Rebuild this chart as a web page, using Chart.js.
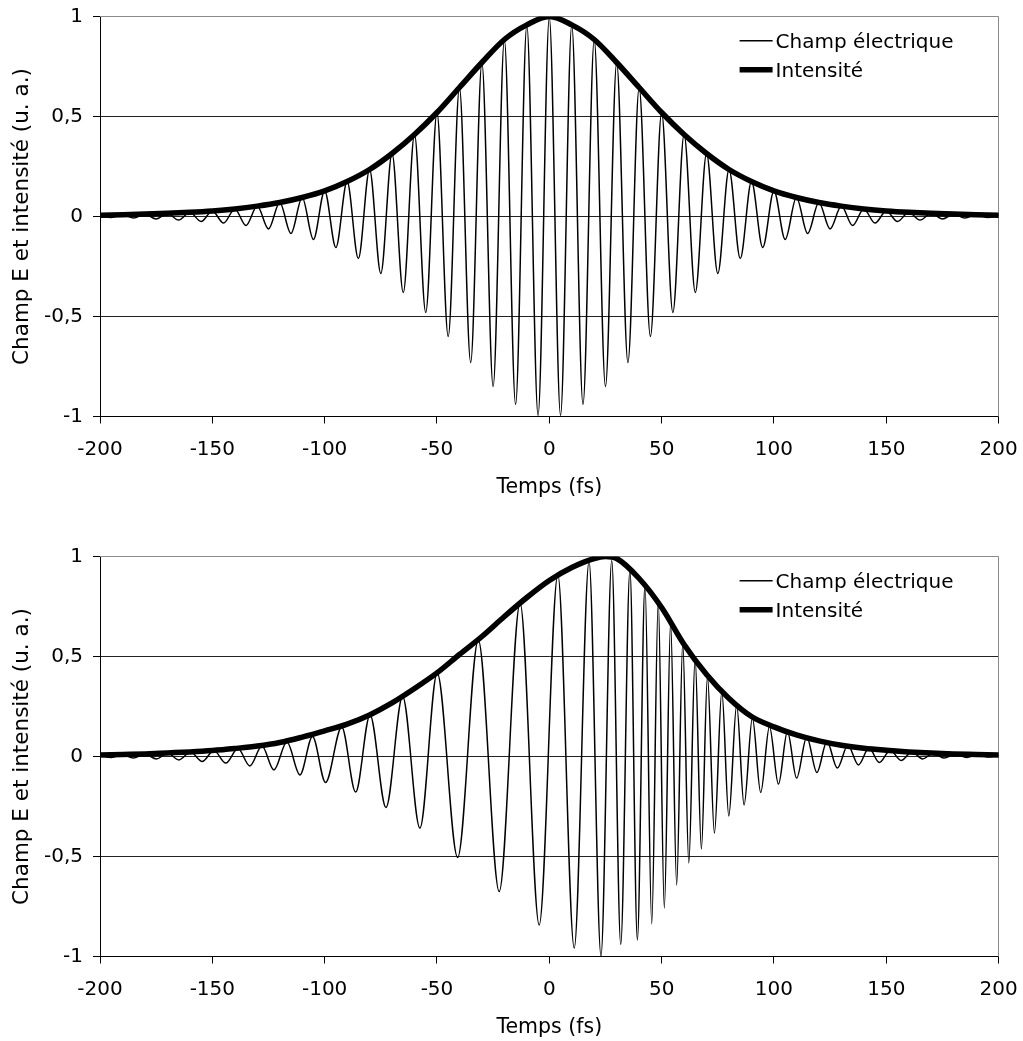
<!DOCTYPE html>
<html>
<head>
<meta charset="utf-8">
<script src="https://cdn.jsdelivr.net/npm/chart.js@4"></script>
<style>
  body { margin: 0; background: #fff; }
  canvas { display: block; }
</style>
</head>
<body>
<canvas id="topChart" width="1023" height="540"></canvas>
<canvas id="bottomChart" width="1023" height="501"></canvas>
<script>
// top pulse: field extrema (fs) and values
const fieldTimesTop = [
  -200, -195, -190, -185, -180, -175, -170, -165, -160, -155,
  -150, -145, -140, -135, -130, -125, -120, -115, -110, -105,
  -100, -95, -90, -85, -80, -75, -70, -65, -60, -55,
  -50, -45, -40, -35, -30, -25, -20, -15, -10, -5,
  0, 5, 10, 15, 20, 25, 30, 35, 40, 45,
  50, 55, 60, 65, 70, 75, 80, 85, 90, 95,
  100, 105, 110, 115, 120, 125, 130, 135, 140, 145,
  150, 155, 160, 165, 170, 175, 180, 185, 190, 195, 200
];
const fieldValuesTop = [
  0.006, -0.005, 0.009, -0.008, 0.012, -0.012, 0.016, -0.018, 0.021, -0.025,
  0.028, -0.033, 0.038, -0.045, 0.052, -0.062, 0.07, -0.085, 0.095, -0.115,
  0.128, -0.155, 0.175, -0.21, 0.235, -0.285, 0.315, -0.38, 0.41, -0.48,
  0.52, -0.6, 0.645, -0.73, 0.77, -0.85, 0.885, -0.94, 0.958, -0.995,
  0.995, -0.995, 0.958, -0.94, 0.885, -0.85, 0.77, -0.73, 0.645, -0.6,
  0.52, -0.48, 0.41, -0.38, 0.315, -0.285, 0.235, -0.21, 0.175, -0.155,
  0.128, -0.115, 0.095, -0.085, 0.07, -0.062, 0.052, -0.045, 0.038, -0.033,
  0.028, -0.025, 0.021, -0.018, 0.016, -0.012, 0.012, -0.008, 0.009, -0.005, 0.006
];
const intensityTimesTop = [
  -200, -190, -180, -170, -160, -150, -140, -130, -120, -110,
  -100, -90, -80, -70, -60, -50, -40, -30, -20, -10,
  0, 10, 20, 30, 40, 50, 60, 70, 80, 90,
  100, 110, 120, 130, 140, 150, 160, 170, 180, 190, 200
];
const intensityValuesTop = [
  0.006, 0.009, 0.012, 0.016, 0.021, 0.028, 0.038, 0.052, 0.07, 0.095,
  0.128, 0.175, 0.235, 0.315, 0.41, 0.52, 0.645, 0.77, 0.885, 0.958,
  1, 0.958, 0.885, 0.77, 0.645, 0.52, 0.41, 0.315, 0.235, 0.175,
  0.128, 0.095, 0.07, 0.052, 0.038, 0.028, 0.021, 0.016, 0.012, 0.009, 0.006
];

// bottom pulse (chirped): field extrema and intensity
const fieldTimesBottom = [
  -200, -194.9, -190.1, -185.2, -180, -174.8, -169.9, -164.9, -159.7, -154.5,
  -149.3, -144, -138.6, -133.3, -127.9, -122.6, -116.8, -111, -105.4, -99.6,
  -92.4, -86.2, -79.8, -72.7, -65.3, -57.6, -49.9, -40.8, -31.6, -22.3,
  -13, -4.5, 3.8, 11.1, 17.7, 23, 27.8, 31.8, 35.9, 39.2,
  42.6, 45.6, 48.5, 51.2, 54, 56.7, 59.4, 62.1, 64.9, 67.7,
  70.4, 73.5, 76.8, 79.9, 83.4, 86.7, 90.4, 94.1, 98, 102,
  106, 110.1, 114.6, 119.1, 123.6, 128.2, 132.9, 137.6, 142.3, 146.9,
  151.8, 156.6, 161.4, 166.2, 171, 175.7, 180.8, 185.8, 190.6, 195.5, 200
];
const fieldValuesBottom = [
  0.006, -0.005, 0.009, -0.008, 0.012, -0.012, 0.017, -0.017, 0.022, -0.025,
  0.03, -0.033, 0.04, -0.047, 0.052, -0.067, 0.072, -0.092, 0.1, -0.13,
  0.148, -0.178, 0.208, -0.255, 0.3, -0.358, 0.417, -0.505, 0.583, -0.675,
  0.767, -0.842, 0.91, -0.958, 0.975, -0.997, 0.98, -0.94, 0.933, -0.917,
  0.858, -0.837, 0.775, -0.758, 0.67, -0.642, 0.567, -0.533, 0.492, -0.463,
  0.4, -0.383, 0.325, -0.297, 0.258, -0.242, 0.192, -0.18, 0.15, -0.138,
  0.125, -0.108, 0.098, -0.08, 0.075, -0.058, 0.056, -0.042, 0.042, -0.03,
  0.031, -0.02, 0.023, -0.012, 0.017, -0.008, 0.012, -0.005, 0.009, -0.003, 0.006
];
const intensityTimesBottom = [
  -200, -190, -180, -170, -160, -150, -140, -130, -120, -110,
  -100, -90, -80, -70, -60, -50, -40, -30, -20, -10,
  0, 10, 20, 25, 30, 40, 50, 60, 70, 80, 90,
  100, 110, 120, 130, 140, 150, 160, 170, 180, 190, 200
];
const intensityValuesBottom = [
  0.007, 0.01, 0.013, 0.018, 0.023, 0.03, 0.04, 0.052, 0.07, 0.097,
  0.128, 0.162, 0.208, 0.268, 0.34, 0.418, 0.51, 0.6, 0.7, 0.795,
  0.88, 0.945, 0.99, 1, 0.99, 0.89, 0.745, 0.56, 0.41, 0.29, 0.2,
  0.148, 0.108, 0.078, 0.056, 0.041, 0.031, 0.023, 0.017, 0.013, 0.01, 0.007
];

const xTicks = [-200, -150, -100, -50, 0, 50, 100, 150, 200];
const yTicks = [-1, -0.5, 0, 0.5, 1];
const seriesLabels = ["Champ électrique", "Intensité"];

const font = '"DejaVu Sans", Verdana, sans-serif';

// gray frame on top/right of the plot area
const plotBorder = {
    id: 'plotBorder',
    beforeDatasetsDraw(chart) {
        const ctx = chart.ctx;
        const a = chart.chartArea;
        const r = Math.round(a.right) - 0.5;
        ctx.save();
        ctx.strokeStyle = '#8a8a8a';
        ctx.lineWidth = 1;
        ctx.beginPath();
        ctx.moveTo(a.left, a.top);
        ctx.lineTo(r, a.top);
        ctx.lineTo(r, a.bottom);
        ctx.stroke();
        ctx.restore();
    }
};

// legend sitting inside the plot, top right
const insideLegend = {
    id: 'insideLegend',
    afterDatasetsDraw(chart) {
        const ctx = chart.ctx;
        const a = chart.chartArea;
        const x0 = a.right - 259;
        ctx.save();
        ctx.font = '20px ' + font;
        ctx.textBaseline = 'middle';
        ctx.fillStyle = '#000';
        chart.data.datasets.forEach((ds, i) => {
            const y = a.top + 24.2 + i * 29;
            ctx.strokeStyle = ds.borderColor;
            ctx.lineWidth = ds.borderWidth;
            ctx.beginPath();
            ctx.moveTo(x0, y);
            ctx.lineTo(x0 + 33, y);
            ctx.stroke();
            ctx.fillText(ds.label, x0 + 36, y + 1.7);
        });
        ctx.restore();
    }
};

function toPoints(xs, ys) {
    return xs.map((x, i) => ({ x: x, y: ys[i] }));
}

function makeChart(id, fieldT, fieldV, intT, intV, padBottom) {
    return new Chart(document.getElementById(id), {
        type: 'line',
        data: {
            datasets: [
                {
                    label: seriesLabels[0],
                    data: toPoints(fieldT, fieldV),
                    borderColor: '#000',
                    borderWidth: 1.5,
                    pointRadius: 0,
                    cubicInterpolationMode: 'monotone',
                    order: 1
                },
                {
                    label: seriesLabels[1],
                    data: toPoints(intT, intV),
                    borderColor: '#000',
                    borderWidth: 5.5,
                    borderCapStyle: 'round',
                    borderJoinStyle: 'round',
                    pointRadius: 0,
                    cubicInterpolationMode: 'monotone',
                    order: 0
                }
            ]
        },
        options: {
            responsive: false,
            animation: false,
            layout: { padding: { top: 16.5, right: 24.4, bottom: padBottom, left: 0 } },
            plugins: {
                legend: { display: false },
                tooltip: { enabled: false }
            },
            scales: {
                x: {
                    type: 'linear',
                    min: -200,
                    max: 200,
                    afterFit: s => {
                        s.height = 83;
                        s.paddingLeft = 0;
                        s.paddingRight = 0;
                    },
                    afterBuildTicks: s => { s.ticks = xTicks.map(v => ({ value: v })); },
                    grid: { drawOnChartArea: false, tickLength: 7, tickColor: '#000' },
                    border: { color: '#000', width: 1 },
                    ticks: { color: '#000', padding: 14, maxRotation: 0, font: { family: font, size: 20 } },
                    title: {
                        display: true,
                        text: 'Temps (fs)',
                        color: '#000',
                        padding: 0,
                        font: { family: font, size: 20.5 }
                    }
                },
                y: {
                    min: -1,
                    max: 1,
                    afterFit: s => {
                        s.width = 100;
                        s.paddingTop = 0;
                        s.paddingBottom = 0;
                    },
                    afterBuildTicks: s => { s.ticks = yTicks.map(v => ({ value: v })); },
                    grid: {
                        color: c => (c.tick && c.tick.value === 1) ? 'rgba(0,0,0,0)' : '#222',
                        tickColor: '#000',
                        tickLength: 7
                    },
                    border: { color: '#000', width: 1 },
                    ticks: {
                        color: '#000',
                        padding: 10,
                        font: { family: font, size: 20 },
                        callback: v => String(v).replace('.', ',')
                    },
                    title: {
                        display: true,
                        text: 'Champ E et intensité (u. a.)',
                        color: '#000',
                        padding: { top: 9.6, bottom: 0 },
                        font: { family: font, size: 21.5 }
                    }
                }
            }
        },
        plugins: [plotBorder, insideLegend]
    });
}

makeChart('topChart', fieldTimesTop, fieldValuesTop, intensityTimesTop, intensityValuesTop, 40.5);
makeChart('bottomChart', fieldTimesBottom, fieldValuesBottom, intensityTimesBottom, intensityValuesBottom, 1.5);
</script>
</body>
</html>
